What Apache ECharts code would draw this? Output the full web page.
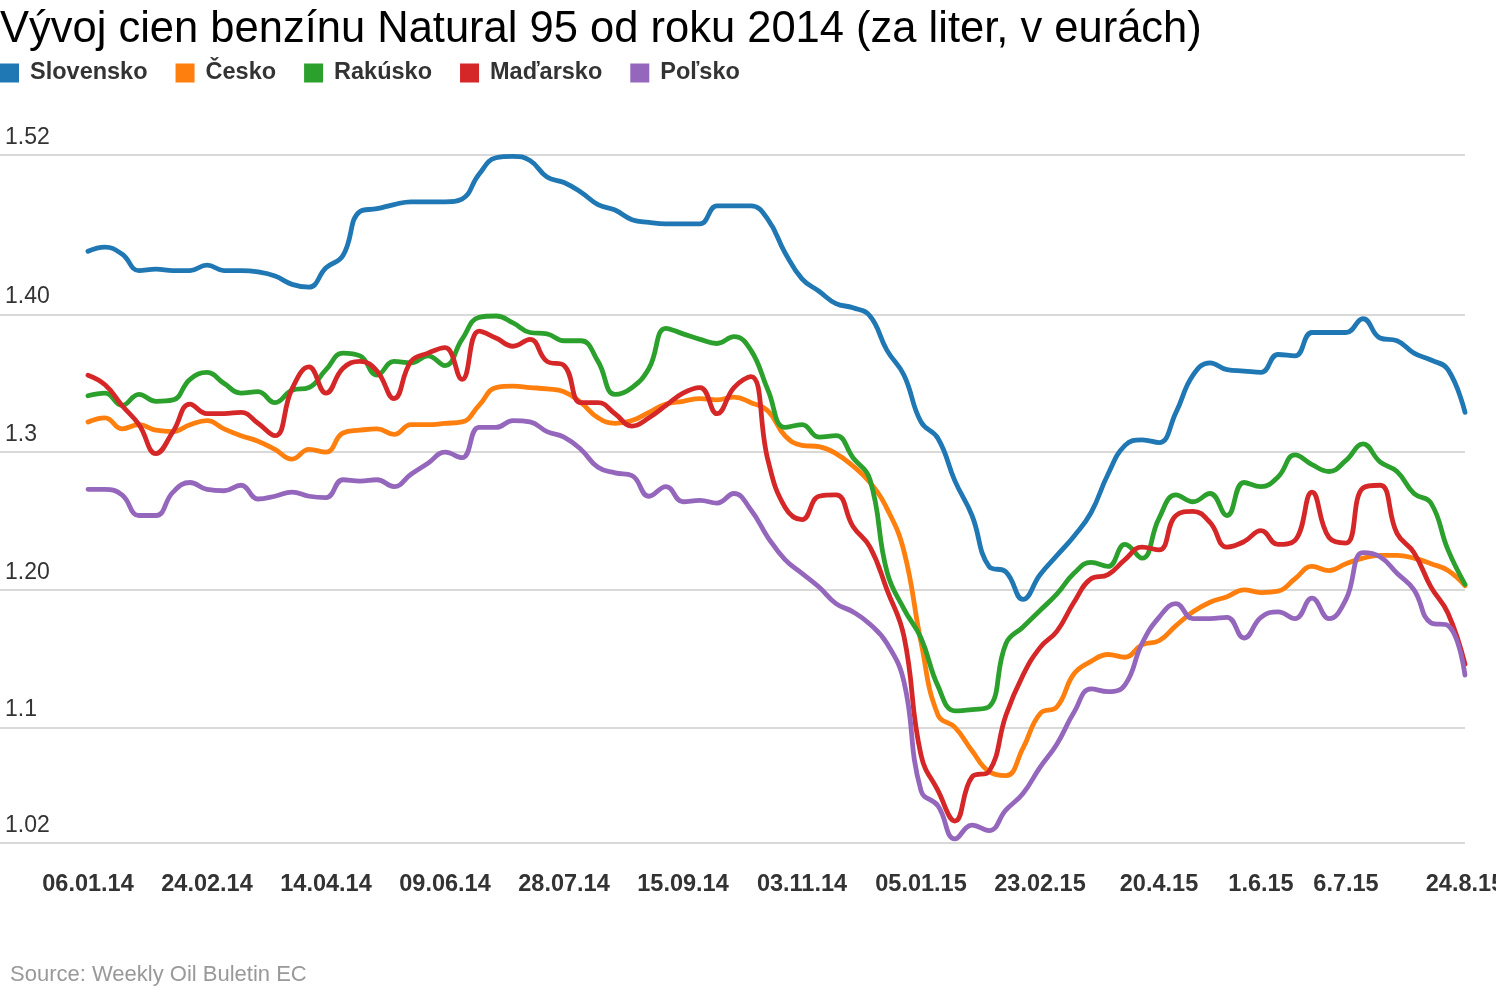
<!DOCTYPE html>
<html>
<head>
<meta charset="utf-8">
<script src="https://cdn.jsdelivr.net/npm/echarts@6/dist/echarts.min.js"></script>
<style>
html,body{margin:0;padding:0;background:#fff;}
#chart{width:1496px;height:1000px;}
</style>
</head>
<body>
<div id="chart"></div>
<script>
// ---- data ----
const seriesNames = ['Slovensko', 'Česko', 'Rakúsko', 'Maďarsko', 'Poľsko'];
const seriesColors = ['#1f77b4', '#ff7f0e', '#2ca02c', '#d62728', '#9467bd'];

// x tick labels and the week index at which each appears (weekly data, 82 weeks)
const xLabels = ['06.01.14','24.02.14','14.04.14','09.06.14','28.07.14','15.09.14','03.11.14','05.01.15','23.02.15','20.4.15','1.6.15','6.7.15','24.8.15'];
const xLabelIdx = [0, 7, 14, 21, 28, 35, 42, 49, 56, 63, 69, 74, 81];

// y gridlines and their printed labels
const yTicks = [1.016, 1.1, 1.2, 1.3, 1.4, 1.516];
const yTickLabels = ['1.02', '1.1', '1.20', '1.3', '1.40', '1.52'];

const slovensko = [1.446,1.449,1.444,1.432,1.433,1.432,1.432,1.436,1.432,1.432,
  1.431,1.428,1.422,1.420,1.434,1.443,1.475,1.477,1.480,1.482,
  1.482,1.482,1.484,1.502,1.514,1.515,1.512,1.500,1.496,1.489,
  1.480,1.476,1.469,1.467,1.466,1.466,1.466,1.479,1.479,1.479,
  1.469,1.445,1.426,1.417,1.408,1.405,1.399,1.374,1.356,1.322,
  1.310,1.279,1.254,1.217,1.213,1.193,1.211,1.225,1.239,1.256,
  1.284,1.305,1.309,1.307,1.329,1.356,1.365,1.360,1.359,1.358,
  1.371,1.370,1.387,1.387,1.387,1.397,1.383,1.381,1.372,1.367,
  1.360,1.329];
const cesko = [1.322,1.325,1.317,1.320,1.316,1.315,1.320,1.323,1.317,1.312,
  1.308,1.302,1.295,1.302,1.300,1.314,1.316,1.317,1.313,1.320,
  1.320,1.321,1.322,1.334,1.347,1.348,1.347,1.346,1.344,1.336,
  1.325,1.321,1.323,1.329,1.335,1.337,1.339,1.338,1.340,1.336,
  1.330,1.312,1.305,1.304,1.299,1.290,1.278,1.259,1.228,1.162,
  1.109,1.100,1.083,1.068,1.065,1.085,1.110,1.115,1.139,1.148,
  1.153,1.151,1.160,1.163,1.174,1.184,1.191,1.195,1.200,1.198,
  1.199,1.208,1.217,1.214,1.219,1.223,1.225,1.225,1.223,1.219,
  1.214,1.203];
const rakusko = [1.341,1.343,1.334,1.342,1.337,1.338,1.353,1.358,1.350,1.343,
  1.344,1.336,1.345,1.347,1.360,1.372,1.370,1.356,1.366,1.365,
  1.370,1.363,1.382,1.398,1.399,1.394,1.387,1.386,1.381,1.381,
  1.366,1.342,1.347,1.361,1.390,1.386,1.382,1.379,1.384,1.374,
  1.345,1.318,1.320,1.311,1.312,1.296,1.280,1.213,1.186,1.165,
  1.130,1.112,1.113,1.115,1.161,1.173,1.185,1.197,1.212,1.220,
  1.217,1.233,1.223,1.252,1.269,1.264,1.270,1.254,1.278,1.275,
  1.282,1.298,1.291,1.286,1.294,1.306,1.293,1.286,1.270,1.263,
  1.229,1.204];
const madarsko = [1.356,1.349,1.334,1.320,1.299,1.315,1.335,1.328,1.328,1.329,
  1.321,1.312,1.346,1.362,1.343,1.361,1.366,1.359,1.339,1.366,
  1.372,1.376,1.353,1.388,1.383,1.377,1.382,1.366,1.363,1.336,
  1.336,1.328,1.319,1.325,1.334,1.343,1.347,1.328,1.347,1.355,
  1.294,1.260,1.251,1.268,1.269,1.246,1.231,1.200,1.166,1.080,
  1.054,1.032,1.064,1.068,1.109,1.138,1.158,1.170,1.191,1.208,
  1.211,1.222,1.231,1.229,1.254,1.257,1.249,1.231,1.235,1.243,
  1.233,1.236,1.271,1.238,1.234,1.274,1.276,1.241,1.227,1.202,
  1.183,1.146];
const polsko = [1.273,1.273,1.269,1.254,1.254,1.271,1.278,1.273,1.272,1.276,
  1.266,1.268,1.271,1.268,1.267,1.280,1.279,1.280,1.275,1.284,
  1.292,1.300,1.296,1.318,1.318,1.323,1.322,1.315,1.311,1.302,
  1.289,1.285,1.283,1.268,1.275,1.264,1.265,1.263,1.270,1.258,
  1.238,1.222,1.212,1.202,1.190,1.184,1.175,1.161,1.133,1.054,
  1.043,1.019,1.029,1.025,1.040,1.052,1.071,1.088,1.111,1.128,
  1.126,1.131,1.161,1.180,1.190,1.179,1.179,1.180,1.165,1.180,
  1.184,1.179,1.194,1.179,1.193,1.227,1.224,1.212,1.200,1.176,
  1.174,1.138];

const allValues = [slovensko, cesko, rakusko, madarsko, polsko];
const titleText = 'Vývoj cien benzínu Natural 95 od roku 2014 (za liter, v eurách)';
const sourceText = 'Source: Weekly Oil Buletin EC';

// ---- chart ----
const FONT = '"Liberation Sans", Arial, Helvetica, sans-serif';
const chart = echarts.init(document.getElementById('chart'), null, {renderer: 'canvas'});

const lineSeries = seriesNames.map((name, k) => ({
  name: name,
  type: 'line',
  data: allValues[k].map((v, i) => [i, v]),
  smooth: 0.45,
  showSymbol: false,
  symbol: 'none',
  z: 3,
  lineStyle: {width: 4.8, color: seriesColors[k], cap: 'round', join: 'round'},
  itemStyle: {color: seriesColors[k]},
  emphasis: {disabled: true}
}));

chart.setOption({
  animation: false,
  backgroundColor: '#fff',
  color: seriesColors,
  title: {
    text: titleText,
    left: 0,
    top: 8,
    padding: 0,
    textStyle: {fontFamily: FONT, fontSize: 43.5, fontWeight: 'normal', color: '#000'}
  },
  legend: {
    data: seriesNames,
    left: 0,
    top: 61,
    padding: 0,
    icon: 'rect',
    itemWidth: 19,
    itemHeight: 19,
    itemGap: 28,
    selectedMode: false,
    textStyle: {fontFamily: FONT, fontSize: 23.5, fontWeight: 'bold', color: '#333', padding: [0, 0, 0, 6]}
  },
  grid: {left: 0, right: 31, top: 155, bottom: 157, containLabel: false, outerBoundsMode: 'none'},
  xAxis: {
    type: 'value',
    min: -88 / 17,
    max: xLabelIdx[xLabelIdx.length - 1],
    axisLine: {show: false},
    axisTick: {show: false},
    splitLine: {show: false},
    axisLabel: {
      customValues: xLabelIdx,
      margin: 30,
      hideOverlap: false,
      fontFamily: FONT,
      fontSize: 23.5,
      fontWeight: 'bold',
      color: '#333',
      formatter: (v) => xLabels[xLabelIdx.indexOf(Math.round(v))] || ''
    }
  },
  yAxis: {
    type: 'value',
    min: yTicks[0],
    max: yTicks[yTicks.length - 1],
    axisLine: {show: false},
    axisTick: {show: false, customValues: yTicks},
    splitLine: {show: true, lineStyle: {color: '#d9d9d9', width: 2}},
    axisLabel: {
      show: true,
      customValues: yTicks,
      inside: true,
      margin: 5,
      align: 'left',
      verticalAlign: 'bottom',
      padding: [0, 0, 6, 0],
      showMinLabel: true,
      showMaxLabel: true,
      hideOverlap: false,
      color: '#333',
      fontFamily: FONT,
      fontSize: 23,
      formatter: (v) => {
        let best = 0;
        yTicks.forEach((t, i) => { if (Math.abs(t - v) < Math.abs(yTicks[best] - v)) best = i; });
        return yTickLabels[best];
      }
    }
  },
  graphic: [{
    type: 'text',
    left: 10,
    top: 964,
    style: {text: sourceText, fontFamily: FONT, fontSize: 22, fill: '#999'}
  }],
  series: lineSeries
});
</script>
</body>
</html>
